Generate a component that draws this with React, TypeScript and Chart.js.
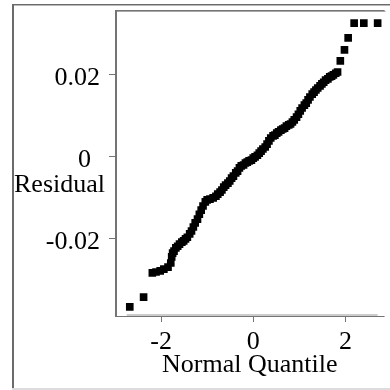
import React, { useEffect, useRef } from "react";
import { Chart, registerables } from "chart.js";

Chart.register(...registerables);

// Normal quantile (x) and residual (y) pairs
const normalQuantile = [
  -2.68, -2.38, -2.19, -2.11, -2.02, -1.94, -1.85, -1.79, -1.77, -1.75,
  -1.72, -1.68, -1.64, -1.6, -1.55, -1.51, -1.47, -1.43, -1.38, -1.34,
  -1.3, -1.26, -1.21, -1.17, -1.13, -1.09, -1.04, -1.0, -0.94, -0.87,
  -0.81, -0.77, -0.72, -0.68, -0.64, -0.6, -0.55, -0.51, -0.47, -0.43,
  -0.38, -0.34, -0.3, -0.26, -0.21, -0.17, -0.13, -0.09, -0.04, 0.0,
  0.04, 0.09, 0.13, 0.17, 0.21, 0.26, 0.3, 0.34, 0.38, 0.43,
  0.47, 0.51, 0.55, 0.6, 0.64, 0.68, 0.72, 0.77, 0.81, 0.85,
  0.89, 0.94, 0.98, 1.02, 1.06, 1.11, 1.15, 1.19, 1.23, 1.28,
  1.32, 1.36, 1.4, 1.45, 1.49, 1.53, 1.57, 1.62, 1.66, 1.7,
  1.74, 1.79, 1.83, 1.89, 1.98, 2.06, 2.19, 2.4, 2.7,
];

const residual = [
  -0.0368, -0.0344, -0.0285, -0.0283, -0.028, -0.0276, -0.0271, -0.0261, -0.0246, -0.0237,
  -0.0232, -0.0224, -0.022, -0.0215, -0.021, -0.0207, -0.0202, -0.0198, -0.019, -0.0183,
  -0.0173, -0.0163, -0.0154, -0.0142, -0.0132, -0.0122, -0.0112, -0.0107, -0.0105, -0.0102,
  -0.0098, -0.0093, -0.0088, -0.0083, -0.0076, -0.0071, -0.0066, -0.0061, -0.0054, -0.0049,
  -0.0041, -0.0037, -0.0029, -0.0024, -0.0022, -0.0017, -0.0015, -0.0012, -0.001, -0.0005,
  -0.0002, 0.0002, 0.0007, 0.0012, 0.0017, 0.0022, 0.0029, 0.0037, 0.0044, 0.0049,
  0.0051, 0.0056, 0.0059, 0.0063, 0.0066, 0.0068, 0.0073, 0.0076, 0.0078, 0.0083,
  0.0088, 0.0095, 0.0102, 0.011, 0.0117, 0.0124, 0.0129, 0.0137, 0.0144, 0.0151,
  0.0156, 0.0161, 0.0166, 0.0171, 0.0176, 0.018, 0.0185, 0.0188, 0.0193, 0.0195,
  0.0198, 0.0202, 0.0205, 0.0232, 0.0259, 0.0288, 0.0324, 0.0324, 0.0324,
];

const xTickValues = [-2, 0, 2];
const xTickLabels = ["-2", "0", "2"];
const yTickValues = [-0.02, 0, 0.02];
const yTickLabels = ["-0.02", "0", "0.02"];
const xTitle = "Normal Quantile";
const yTitle = "Residual";

const FONT = '26px "Liberation Serif", "Times New Roman", serif';
const LINE = "#747474";

const framePlugin = {
  id: "jmpFrame",
  beforeDatasetsDraw(chart: any) {
    const ctx = chart.ctx as CanvasRenderingContext2D;
    const { left, top, right, bottom } = chart.chartArea;
    const xs = chart.scales.x;
    const ys = chart.scales.y;
    ctx.save();
    // outer frame
    ctx.fillStyle = "#6b6b6b";
    ctx.fillRect(12, 4, 2, 386);
    ctx.fillRect(12, 4, 378, 1);
    ctx.fillStyle = "#b8b8b8";
    ctx.fillRect(14, 5, 376, 1);
    ctx.fillStyle = "#dcdcdc";
    ctx.fillRect(12, 388, 378, 2);
    // inner plot box
    ctx.fillStyle = LINE;
    ctx.fillRect(left - 1, top - 1, 2, bottom - top + 2);
    ctx.fillRect(left - 1, top - 1, right - left + 1, 1);
    ctx.fillStyle = "#a8a8a8";
    ctx.fillRect(left + 1, top, right - left, 1);
    ctx.fillStyle = LINE;
    ctx.fillRect(left - 1, bottom, right - left + 1, 1);
    // x axis range line
    const x0 = xs.getPixelForValue(Math.min(...normalQuantile)) - 3;
    const x1 = xs.getPixelForValue(Math.max(...normalQuantile));
    ctx.fillStyle = "#9a9a9a";
    ctx.fillRect(x0, bottom - 1.5, x1 - x0, 1);
    // ticks
    ctx.fillStyle = LINE;
    xTickValues.forEach((v) => {
      const px = Math.round(xs.getPixelForValue(v));
      ctx.fillRect(px, bottom, 1, 6);
    });
    yTickValues.forEach((v) => {
      const py = Math.round(ys.getPixelForValue(v));
      ctx.fillRect(left - 7, py, 6, 1);
    });
    ctx.restore();
  },
  afterDraw(chart: any) {
    const ctx = chart.ctx as CanvasRenderingContext2D;
    const { left, right, bottom } = chart.chartArea;
    const xs = chart.scales.x;
    const ys = chart.scales.y;
    ctx.save();
    ctx.font = FONT;
    ctx.fillStyle = "#000";
    ctx.textBaseline = "alphabetic";
    // y tick labels
    ctx.textAlign = "right";
    yTickValues.forEach((v, i) => {
      const py = ys.getPixelForValue(v);
      const rx = yTickLabels[i] === "0" ? left - 25 : left - 16;
      ctx.fillText(yTickLabels[i], rx, py + 11);
    });
    // y title (horizontal, under the 0 label)
    ctx.textAlign = "right";
    ctx.fillText(yTitle, left - 11, ys.getPixelForValue(0) + 36);
    // x tick labels
    ctx.textAlign = "center";
    xTickValues.forEach((v, i) => {
      const px = xs.getPixelForValue(v);
      ctx.fillText(xTickLabels[i], px, bottom + 33);
    });
    // x title
    ctx.fillText(xTitle, (left + right) / 2 - 0.5, bottom + 56);
    ctx.restore();
  },
};

export default function App() {
  const ref = useRef<HTMLCanvasElement | null>(null);

  useEffect(() => {
    if (!ref.current) return;
    const points = normalQuantile.map((q, i) => ({ x: q, y: residual[i] }));
    const chart = new Chart(ref.current, {
      type: "scatter",
      data: {
        datasets: [
          {
            data: points,
            pointStyle: "rect",
            pointRadius: 5.4,
            pointHoverRadius: 5.4,
            backgroundColor: "#000",
            borderColor: "#000",
            borderWidth: 0,
          },
        ],
      },
      options: {
        responsive: false,
        animation: false,
        devicePixelRatio: 1,
        layout: { padding: { left: 116, top: 11, right: 0, bottom: 74 } },
        plugins: {
          legend: { display: false },
          tooltip: { enabled: false },
        },
        scales: {
          x: { type: "linear", display: false, min: -2.979, max: 2.851 },
          y: { type: "linear", display: false, min: -0.03902, max: 0.03537 },
        },
      },
      plugins: [framePlugin],
    });
    return () => chart.destroy();
  }, []);

  return (
    <div
      style={{
        position: "fixed",
        left: 0,
        top: 0,
        width: 390,
        height: 390,
        overflow: "hidden",
        background: "#fff",
      }}
    >
      <canvas ref={ref} width={390} height={390} style={{ display: "block", width: 390, height: 390 }} />
    </div>
  );
}
